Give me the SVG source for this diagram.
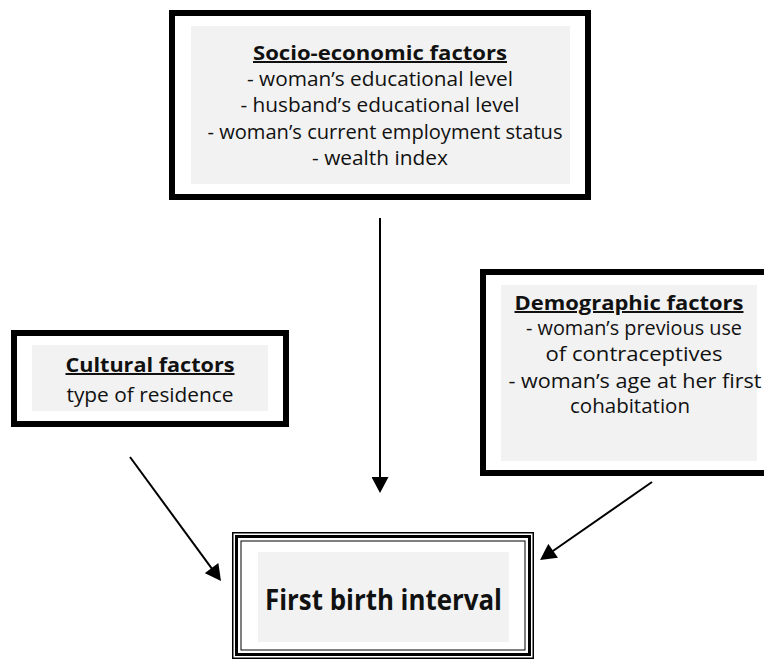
<svg xmlns="http://www.w3.org/2000/svg" width="764" height="659" viewBox="0 0 764 659">
<style>
.box{fill:#ffffff;stroke:#000000;stroke-width:6}
.pad{fill:#f2f2f2}
.t{font-family:"Open Sans","Noto Sans","Liberation Sans",sans-serif;font-size:20px;fill:#111111;text-anchor:middle}
.h{font-weight:bold;text-decoration:underline}
.big{font-family:"Open Sans","Noto Sans","Liberation Sans",sans-serif;font-size:29px;font-weight:bold;fill:#111111;text-anchor:middle}
.conn{stroke:#000000;stroke-width:2;fill:none}
</style>
<defs>
<marker id="arr" markerUnits="userSpaceOnUse" markerWidth="17" markerHeight="17" viewBox="0 0 16 17" refX="13" refY="8.5" orient="auto">
<path d="M0,0 L16,8.5 L0,17 z" fill="#000000"/>
</marker>
</defs>
<g id="socio">
<rect class="box" x="172" y="13" width="416" height="184"/>
<rect class="pad" x="191" y="26" width="379" height="158"/>
<text class="t h" x="380" y="60" textLength="254" lengthAdjust="spacingAndGlyphs">Socio-economic factors</text>
<text class="t" x="380" y="86" textLength="266" lengthAdjust="spacingAndGlyphs">- woman’s educational level</text>
<text class="t" x="380" y="112" textLength="279" lengthAdjust="spacingAndGlyphs">- husband’s educational level</text>
<text class="t" x="385" y="139" textLength="355" lengthAdjust="spacingAndGlyphs">- woman’s current employment status</text>
<text class="t" x="380" y="165" textLength="136" lengthAdjust="spacingAndGlyphs">- wealth index</text>
</g>
<g id="cultural">
<rect class="box" x="14" y="333" width="272" height="91"/>
<rect class="pad" x="32" y="345" width="236" height="66"/>
<text class="t h" x="150" y="372" textLength="169" lengthAdjust="spacingAndGlyphs">Cultural factors</text>
<text class="t" x="150" y="402" textLength="167" lengthAdjust="spacingAndGlyphs">type of residence</text>
</g>
<g id="demographic">
<rect class="box" x="483" y="272" width="300" height="201"/>
<rect class="pad" x="501" y="285" width="256" height="176"/>
<text class="t h" x="629" y="310" textLength="229" lengthAdjust="spacingAndGlyphs">Demographic factors</text>
<text class="t" x="634" y="335" textLength="216" lengthAdjust="spacingAndGlyphs">- woman’s previous use</text>
<text class="t" x="634" y="361" textLength="177" lengthAdjust="spacingAndGlyphs">of contraceptives</text>
<text class="t" x="635" y="388" textLength="253" lengthAdjust="spacingAndGlyphs">- woman’s age at her first</text>
<text class="t" x="630" y="413" textLength="120" lengthAdjust="spacingAndGlyphs">cohabitation</text>
</g>
<g id="outcome">
<rect x="232.75" y="532.75" width="300.5" height="125.5" fill="#ffffff" stroke="#000000" stroke-width="1.5"/>
<rect x="236.5" y="536.5" width="293" height="118" fill="none" stroke="#000000" stroke-width="3"/>
<rect x="241" y="541" width="284" height="109" fill="none" stroke="#000000" stroke-width="1"/>
<rect class="pad" x="258" y="552" width="251" height="90"/>
<text class="big" x="383.5" y="610" textLength="237" lengthAdjust="spacingAndGlyphs">First birth interval</text>
</g>
<g id="connectors">
<line class="conn" x1="380" y1="218" x2="380" y2="490" marker-end="url(#arr)"/>
<line class="conn" x1="130" y1="457" x2="219.2" y2="578.6" marker-end="url(#arr)"/>
<line class="conn" x1="652" y1="482" x2="542.5" y2="558.3" marker-end="url(#arr)"/>
</g>
</svg>
